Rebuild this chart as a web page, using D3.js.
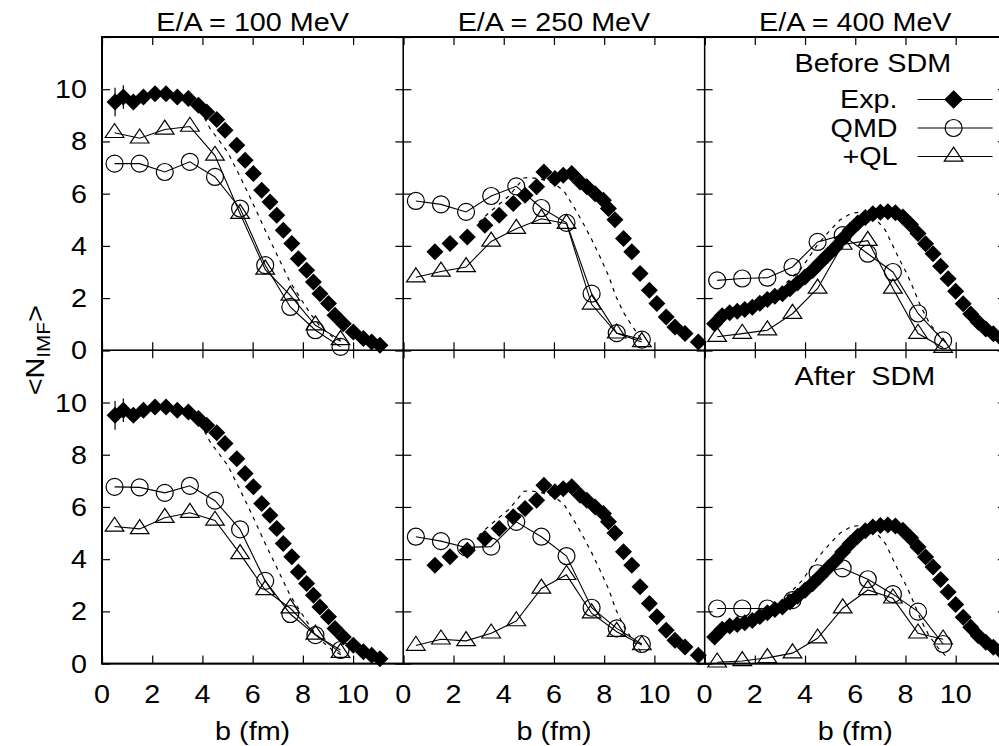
<!DOCTYPE html>
<html>
<head>
<meta charset="utf-8">
<script src="https://cdn.jsdelivr.net/npm/d3@7"></script>
<style>
  body { margin: 0; background: #fff; }
  text { font-family: "Liberation Sans", Arial, Helvetica, sans-serif; fill: #000; white-space: pre; }
</style>
</head>
<body>
<div id="chart"></div>
<script>
// ---- data ----
var energyTitles = ["E/A = 100 MeV", "E/A = 250 MeV", "E/A = 400 MeV"];
var rowNotes = ["Before SDM", "After  SDM"];
var tickVals = [0, 2, 4, 6, 8, 10, 12];
var tickLabels = ["0", "2", "4", "6", "8", "10"];

// impact parameters of the model calculations
var bModel = [0.5, 1.5, 2.5, 3.5, 4.5, 5.5, 6.5, 7.5, 8.5, 9.5];

// experiment (same in both rows)
var exp100B = [0.52, 0.85, 1.25, 1.65, 2.11, 2.55, 3.0, 3.44, 3.84, 4.17, 4.57, 4.9, 5.37, 5.7, 6.03, 6.36, 6.69, 6.96, 7.22, 7.56, 7.82, 8.15, 8.42, 8.68, 9.02, 9.28, 9.61, 10.01, 10.41, 10.74, 11.07];
var exp100N = [9.51, 9.70, 9.51, 9.70, 9.83, 9.83, 9.70, 9.64, 9.39, 9.13, 8.84, 8.43, 7.85, 7.28, 6.77, 6.13, 5.68, 5.17, 4.60, 4.09, 3.51, 3.07, 2.62, 2.17, 1.79, 1.34, 1.02, 0.70, 0.45, 0.32, 0.19];
var exp100Err = [0.55, 0.45];

var exp250B = [1.26, 1.86, 2.55, 3.25, 3.82, 4.38, 4.85, 5.31, 5.6, 6.04, 6.37, 6.71, 7.04, 7.31, 7.64, 7.97, 8.17, 8.43, 8.77, 9.10, 9.43, 9.80, 10.10, 10.47, 10.82, 11.22, 11.75];
var exp250N = [3.77, 4.09, 4.34, 4.79, 5.17, 5.62, 5.94, 6.26, 6.83, 6.58, 6.70, 6.77, 6.45, 6.26, 6.0, 5.75, 5.43, 5.0, 4.28, 3.77, 2.94, 2.30, 1.79, 1.28, 0.89, 0.64, 0.32];

var exp400B = [0.4, 0.7, 1.0, 1.3, 1.6, 1.9, 2.2, 2.5, 2.8, 3.1, 3.4, 3.7, 4.0, 4.3, 4.6, 4.9, 5.2, 5.5, 5.8, 6.1, 6.4, 6.7, 7.0, 7.3, 7.6, 7.9, 8.2, 8.5, 8.8, 9.1, 9.4, 9.7, 10.0, 10.3, 10.6, 10.9, 11.2, 11.5, 11.8];
var exp400N = [1.02, 1.32, 1.44, 1.50, 1.56, 1.65, 1.80, 1.95, 2.07, 2.17, 2.36, 2.58, 2.81, 3.06, 3.35, 3.64, 3.93, 4.27, 4.60, 4.88, 5.09, 5.23, 5.29, 5.31, 5.27, 5.11, 4.82, 4.47, 4.08, 3.70, 3.22, 2.74, 2.26, 1.78, 1.39, 1.07, 0.82, 0.63, 0.48];

// QMD and +QL, before SDM (top row)
var qmd100Before = [7.15, 7.15, 6.83, 7.22, 6.64, 5.43, 3.26, 1.66, 0.77, 0.13];
var ql100Before  = [8.33, 8.12, 8.46, 8.57, 7.46, 5.23, 3.10, 2.10, 0.96, 0.40];
var qmd250Before = [5.72, 5.59, 5.30, 5.91, 6.28, 5.45, 4.88, 2.17, 0.66, 0.41];
var ql250Before  = [2.80, 3.02, 3.19, 4.17, 4.66, 5.04, 4.85, 1.76, 0.65, 0.32];
var qmd400Before = [2.68, 2.75, 2.78, 3.19, 4.15, 4.41, 3.70, 3.00, 1.41, 0.38];
var ql400Before  = [0.52, 0.64, 0.77, 1.40, 2.37, 4.05, 4.20, 2.37, 0.64, 0.10];

// QMD and +QL, after SDM (bottom row)
var qmd100After = [6.77, 6.75, 6.54, 6.81, 6.24, 5.14, 3.17, 1.90, 1.09, 0.52];
var ql100After  = [5.25, 5.16, 5.59, 5.78, 5.48, 4.20, 2.82, 2.12, 1.12, 0.42];
var qmd250After = [4.86, 4.69, 4.45, 4.48, 5.43, 4.86, 4.12, 2.14, 1.35, 0.75];
var ql250After  = [0.69, 0.93, 0.87, 1.16, 1.63, 2.88, 3.40, 1.93, 1.22, 0.71];
var qmd400After = [2.11, 2.11, 2.11, 2.43, 3.46, 3.65, 3.23, 2.66, 1.99, 0.75];
var ql400After  = [0.05, 0.10, 0.22, 0.40, 0.97, 2.12, 2.82, 2.50, 1.16, 0.93];

// dashed reference curves
var dash100 = [[3.0, 9.75], [3.5, 9.55], [4.0, 9.05], [4.3, 8.5], [5.0, 7.6], [5.5, 6.65], [6.0, 5.65], [6.5, 4.6], [7.0, 3.6], [7.5, 2.6], [8.0, 1.85], [8.3, 1.4], [8.7, 0.9], [9.2, 0.5], [9.6, 0.3]];
var dash250 = [[3.0, 4.9], [3.45, 5.3], [3.85, 5.62], [4.2, 5.9], [4.5, 6.25], [4.8, 6.6], [5.05, 6.62], [5.5, 6.55], [6.0, 6.4], [6.4, 6.1], [6.85, 5.4], [7.2, 4.8], [7.5, 4.25], [7.85, 3.55], [8.2, 2.8], [8.45, 2.1], [8.77, 1.45], [9.1, 0.95], [9.5, 0.4]];
var dash400 = [[3.0, 2.35], [3.5, 2.8], [3.9, 3.2], [4.5, 4.05], [5.0, 4.6], [5.4, 5.0], [5.85, 5.25], [6.3, 5.3], [6.8, 5.05], [7.2, 4.6], [7.5, 4.0], [7.75, 3.5], [8.05, 2.95], [8.3, 2.4], [8.6, 1.7], [8.95, 1.05], [9.3, 0.6], [9.6, 0.3]];

var legendLabels = ["Exp.", "QMD", "+QL"];

// ---- layout ----
var svgWidth = 999, svgHeight = 746;
var margin = { left: 102, top: 37 };
var panelW = 301.3, panelH = 313.3;
var fontSize = 25, stretch = 1.15;
var diamondSize = 8.5;

var columns = [
  { title: energyTitles[0], expB: exp100B, expN: exp100N, err: exp100Err, dash: dash100,
    rows: [[qmd100Before, ql100Before], [qmd100After, ql100After]] },
  { title: energyTitles[1], expB: exp250B, expN: exp250N, err: [], dash: dash250,
    rows: [[qmd250Before, ql250Before], [qmd250After, ql250After]] },
  { title: energyTitles[2], expB: exp400B, expN: exp400N, err: [], dash: dash400,
    rows: [[qmd400Before, ql400Before], [qmd400After, ql400After]] }
];

var svg = d3.select("#chart").append("svg")
  .attr("width", svgWidth)
  .attr("height", svgHeight);

var xScale = d3.scaleLinear().domain([0, 12]).range([0, panelW]);
var yScale = d3.scaleLinear().domain([0, 12]).range([panelH, 0]);

function diamondPath(s) { return "M0," + (-s) + "L" + s + ",0L0," + s + "L" + (-s) + ",0Z"; }
function trianglePath(s) { return "M0," + (-1.33 * s) + "L" + (1.33 * s) + "," + (0.67 * s) + "L" + (-1.33 * s) + "," + (0.67 * s) + "Z"; }

// stretched text helper (the original font is a bit wider than Helvetica)
function label(parent, str, tx, ty, anchor) {
  return parent.append("text")
    .attr("transform", "translate(" + tx + "," + ty + ") scale(" + stretch + ",1)")
    .attr("text-anchor", anchor || "middle")
    .attr("font-size", fontSize)
    .attr("xml:space", "preserve")
    .text(str);
}

var line = d3.line().x(d => xScale(d[0])).y(d => yScale(d[1]));

columns.forEach(function(col, c) {
  col.rows.forEach(function(models, r) {
    var g = svg.append("g")
      .attr("transform", "translate(" + (margin.left + c * panelW) + "," + (margin.top + r * panelH) + ")");

    // inward ticks on all four sides
    g.append("g").attr("transform", "translate(0," + panelH + ")")
      .call(d3.axisBottom(xScale).tickValues(tickVals).tickSizeInner(-8).tickSizeOuter(0).tickFormat(""));
    g.append("g")
      .call(d3.axisTop(xScale).tickValues(tickVals).tickSizeInner(-8).tickSizeOuter(0).tickFormat(""));
    g.append("g")
      .call(d3.axisLeft(yScale).tickValues(tickVals).tickSizeInner(-8).tickSizeOuter(0).tickFormat(""));
    g.append("g").attr("transform", "translate(" + panelW + ",0)")
      .call(d3.axisRight(yScale).tickValues(tickVals).tickSizeInner(-8).tickSizeOuter(0).tickFormat(""));
    g.selectAll(".domain").remove();
    g.selectAll(".tick line").attr("stroke", "#000").attr("stroke-width", 1.2);

    g.append("rect")
      .attr("width", panelW).attr("height", panelH)
      .attr("fill", "none").attr("stroke", "#000").attr("stroke-width", 1.3);

    // dashed reference
    g.append("path")
      .datum(col.dash)
      .attr("d", line)
      .attr("fill", "none")
      .attr("stroke", "#000")
      .attr("stroke-width", 1.2)
      .attr("stroke-dasharray", "4,5");

    // model curves
    var qmd = bModel.map((b, i) => [b, models[0][i]]);
    var ql = bModel.map((b, i) => [b, models[1][i]]);

    [qmd, ql].forEach(function(series) {
      g.append("path").datum(series)
        .attr("d", line)
        .attr("fill", "none")
        .attr("stroke", "#000")
        .attr("stroke-width", 1.1);
    });

    g.selectAll(".qmd").data(qmd).enter()
      .append("circle")
      .attr("class", "qmd")
      .attr("cx", d => xScale(d[0]))
      .attr("cy", d => yScale(d[1]))
      .attr("r", 8.5)
      .attr("fill", "none")
      .attr("stroke", "#000")
      .attr("stroke-width", 1.2);

    g.selectAll(".ql").data(ql).enter()
      .append("path")
      .attr("class", "ql")
      .attr("transform", d => "translate(" + xScale(d[0]) + "," + yScale(d[1]) + ")")
      .attr("d", trianglePath(7))
      .attr("fill", "none")
      .attr("stroke", "#000")
      .attr("stroke-width", 1.2);

    // experiment: error bars + filled diamonds
    col.err.forEach(function(e, i) {
      g.append("line")
        .attr("x1", xScale(col.expB[i])).attr("x2", xScale(col.expB[i]))
        .attr("y1", yScale(col.expN[i] - e)).attr("y2", yScale(col.expN[i] + e))
        .attr("stroke", "#000").attr("stroke-width", 1.2);
    });
    var expPts = col.expB.map((b, i) => [b, col.expN[i]]);
    g.selectAll(".exp").data(expPts).enter()
      .append("path")
      .attr("class", "exp")
      .attr("transform", d => "translate(" + xScale(d[0]) + "," + yScale(d[1]) + ")")
      .attr("d", diamondPath(diamondSize))
      .attr("fill", "#000");

    // tick labels on the outside panels
    if (c === 0) {
      tickVals.slice(0, 6).forEach(function(v, i) {
        label(g, tickLabels[i], -15, yScale(v) + 9, "end");
      });
    }
    if (r === 1) {
      tickVals.slice(0, 6).forEach(function(v, i) {
        label(g, tickLabels[i], xScale(v), panelH + 39.5, "middle");
      });
      label(g, "b (fm)", panelW / 2, panelH + 76, "middle");
    }
    if (r === 0) {
      label(g, col.title, panelW / 2, -6, "middle");
    }

    // notes and legend in the 400 MeV column
    if (c === 2) {
      label(g, rowNotes[r], 90, 35, "start");
      if (r === 0) {
        var shapes = [diamondPath(diamondSize), null, trianglePath(7)];
        legendLabels.forEach(function(t, i) {
          var ly = 62.5 + i * 28.5;
          label(g, t, 193, ly + 8.5, "end");
          g.append("line")
            .attr("x1", 213).attr("x2", 288)
            .attr("y1", ly).attr("y2", ly)
            .attr("stroke", "#000").attr("stroke-width", 1.1);
          if (i === 1) {
            g.append("circle").attr("cx", 249).attr("cy", ly).attr("r", 8.5)
              .attr("fill", "none").attr("stroke", "#000").attr("stroke-width", 1.2);
          } else {
            g.append("path")
              .attr("transform", "translate(249," + ly + ")")
              .attr("d", shapes[i])
              .attr("fill", i === 0 ? "#000" : "none")
              .attr("stroke", "#000").attr("stroke-width", 1.2);
          }
        });
      }
    }
  });
});

// heavier outer frame
svg.append("rect")
  .attr("x", margin.left).attr("y", margin.top)
  .attr("width", panelW * 3).attr("height", panelH * 2)
  .attr("fill", "none").attr("stroke", "#000").attr("stroke-width", 2);

// y axis title
var yTitle = svg.append("text")
  .attr("transform", "translate(44," + (margin.top + panelH) + ") rotate(-90) scale(" + stretch + ",1)")
  .attr("text-anchor", "middle")
  .attr("font-size", fontSize);
yTitle.append("tspan").text("<N");
yTitle.append("tspan").attr("font-size", 18).attr("dy", 6).text("IMF");
yTitle.append("tspan").attr("dy", -6).text(">");
</script>
</body>
</html>
